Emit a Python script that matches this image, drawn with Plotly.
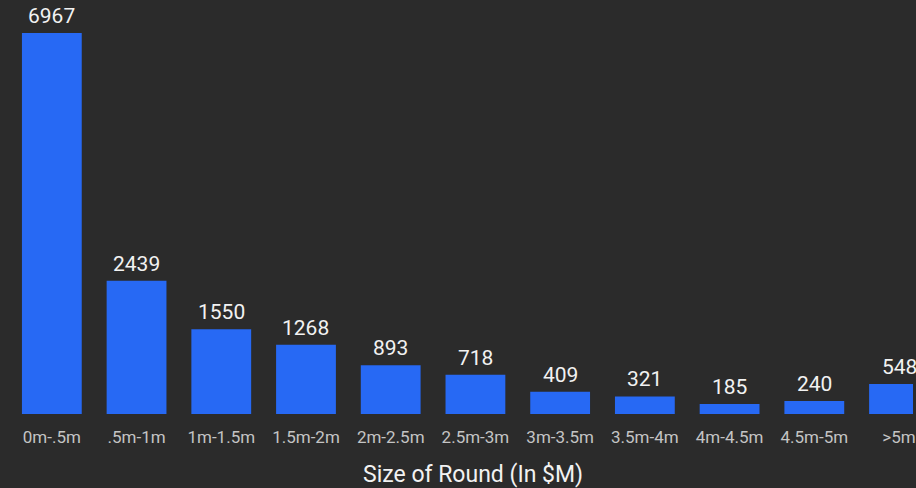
import plotly.graph_objects as go

categories = ["0m-.5m", ".5m-1m", "1m-1.5m", "1.5m-2m", "2m-2.5m", "2.5m-3m",
              "3m-3.5m", "3.5m-4m", "4m-4.5m", "4.5m-5m", ">5m"]
counts = [6967, 2439, 1550, 1268, 893, 718, 409, 321, 185, 240, 548]
x_title = "Size of Round (In $M)"

BG = "#2b2b2b"
BAR = "#2769f4"

fig = go.Figure(go.Bar(
    x=categories, y=counts,
    marker=dict(color=BAR, line=dict(width=0)),
    cliponaxis=False,
))

for c, v in zip(categories, counts):
    fig.add_annotation(
        x=c, y=v, text=str(v), showarrow=False,
        xanchor="center", yanchor="bottom", yshift=3,
        font=dict(family="Roboto", size=21, color="#f2f2f2"),
    )

fig.add_annotation(
    xref="paper", yref="paper", x=475 / 916, y=-60 / 414,
    xanchor="center", yanchor="middle", showarrow=False,
    text=x_title, font=dict(family="Roboto", size=23, color="#f2f2f2"),
)

fig.update_layout(
    width=916, height=488,
    paper_bgcolor=BG, plot_bgcolor=BG,
    margin=dict(l=0, r=0, t=0, b=74),
    bargap=0.294,
    showlegend=False,
    font=dict(family="Roboto"),
)
fig.update_xaxes(
    type="category",
    range=[-0.6118, 10.165],
    showgrid=False, zeroline=False, showline=False,
    ticks="outside", ticklen=8, tickcolor=BG,
    tickfont=dict(family="Roboto", size=17, color="#c4c4c4"),
)
fig.update_yaxes(
    range=[0, 7571], visible=False, showgrid=False, zeroline=False,
)

fig.write_html("out.html")
